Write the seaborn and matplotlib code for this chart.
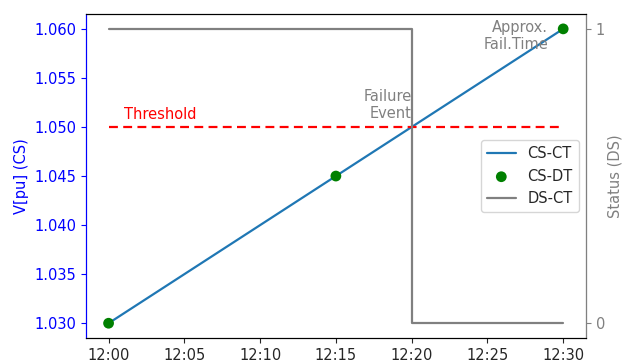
"""Voltage vs. device status around a failure event."""

import matplotlib.pyplot as plt
import pandas as pd
import seaborn as sns

# data (minutes after 12:00)
ct_minutes = [0, 30]
ct_voltage = [1.030, 1.060]
dt_minutes = [0, 15, 30]
dt_voltage = [1.030, 1.045, 1.060]
ds_minutes = [0, 20, 20, 30]
ds_status = [1, 1, 0, 0]
threshold_minutes = [0, 30]
threshold_value = 1.05
tick_minutes = [0, 5, 10, 15, 20, 25, 30]
tick_labels = ["12:00", "12:05", "12:10", "12:15", "12:20", "12:25", "12:30"]

sns.set_style("ticks", {"axes.grid": False})
plt.rcParams["font.family"] = ["DejaVu Sans"]
plt.rcParams["font.size"] = 10.5

fig, ax = plt.subplots(figsize=(6.22, 3.63), dpi=100)
ax2 = ax.twinx()

ct = pd.DataFrame({"t": ct_minutes, "v": ct_voltage})
dt = pd.DataFrame({"t": dt_minutes, "v": dt_voltage})
ds = pd.DataFrame({"t": ds_minutes, "s": ds_status})

sns.lineplot(data=ct, x="t", y="v", ax=ax, color="#1f77b4", lw=1.6, label="CS-CT", legend=False)
sns.scatterplot(data=dt, x="t", y="v", ax=ax, color="green", s=60, edgecolor="none",
                label="CS-DT", legend=False, zorder=3)
ax.plot(threshold_minutes, [threshold_value] * 2, color="red", ls=(0, (4, 2.4)), lw=1.6)
ds_line = ax2.plot(ds["t"], ds["s"], color="gray", lw=1.6, label="DS-CT")

ax.text(1, 1.0505, "Threshold", color="red", ha="left", va="bottom")
ax.text(20, 1.0506, "Failure\nEvent", color="gray", ha="right", va="bottom",
        multialignment="right")
ax.text(29, 1.0576, "Approx.\nFail.Time", color="gray", ha="right", va="bottom",
        multialignment="right")

ax.set_xticks(tick_minutes)
ax.set_xticklabels(tick_labels)
ax.set_xlabel("")
ax.set_ylabel("V[pu] (CS)", color="blue")
ax.tick_params(axis="y", colors="blue")
ax.yaxis.set_major_formatter(plt.FormatStrFormatter("%.3f"))
ax2.set_ylabel("Status (DS)", color="gray", labelpad=2)
ax2.set_yticks([0, 1])
ax2.tick_params(axis="y", colors="gray")
ax2.set_ylim(-0.05, 1.05)

for a in (ax, ax2):
    for side in ("top", "bottom"):
        a.spines[side].set_color("black")
ax2.spines["left"].set_color("blue")
ax2.spines["right"].set_color("gray")
ax.spines["left"].set_color("blue")

handles, labels = ax.get_legend_handles_labels()
ax2.legend(handles + ds_line, labels + ["DS-CT"], loc="center right")

fig.subplots_adjust(left=0.138, right=0.942, top=0.961, bottom=0.069)
plt.savefig("out.png")
plt.close()
